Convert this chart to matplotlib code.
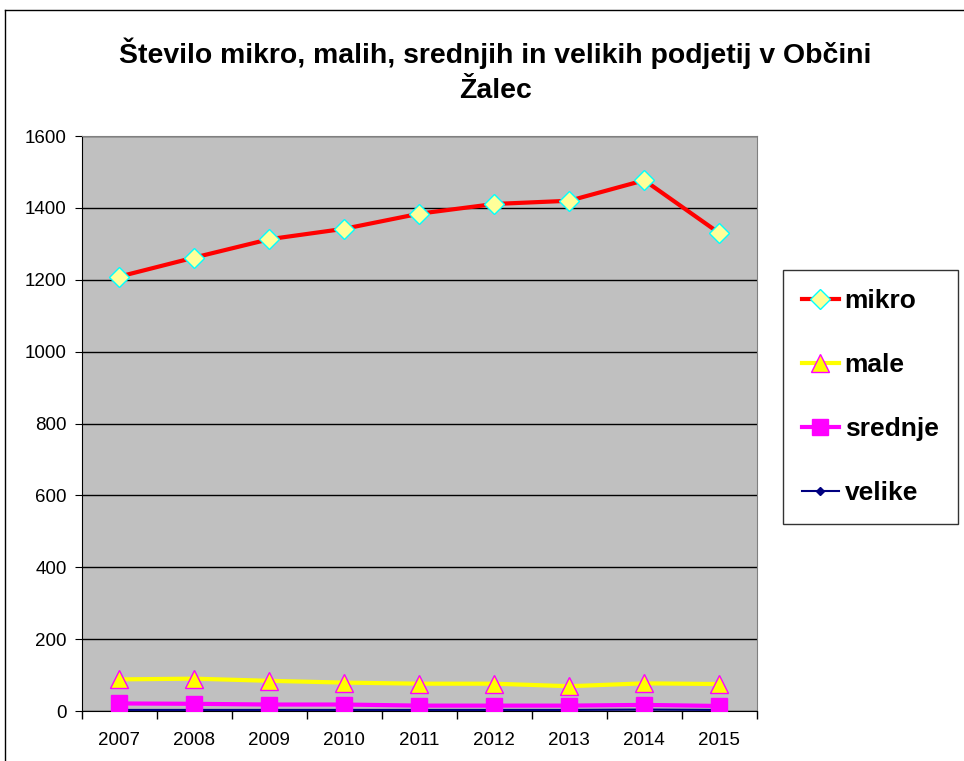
import matplotlib.pyplot as plt
from matplotlib.lines import Line2D

plt.rcParams['font.family'] = ['Liberation Sans', 'DejaVu Sans']

years = ['2007', '2008', '2009', '2010', '2011', '2012', '2013', '2014', '2015']
mikro = [1209, 1262, 1313, 1342, 1384, 1411, 1420, 1477, 1330]
male = [88, 90, 84, 79, 76, 76, 69, 77, 75]
srednje = [21, 20, 18, 18, 15, 15, 15, 17, 14]
velike = [3, 3, 3, 3, 3, 3, 3, 4, 3]

fig = plt.figure(figsize=(9.64, 7.61), dpi=100)
ax = fig.add_axes([0.085, 0.0657, 0.7, 0.7555])

x = range(len(years))

# series
ax.plot(x, velike, color='#000080', lw=1.5, marker='D', ms=4,
        mfc='#000080', mec='#000080', label='velike', zorder=3)
ax.plot(x, srednje, color='#FF00FF', lw=3, marker='s', ms=11,
        mfc='#FF00FF', mec='#FF00FF', label='srednje', zorder=4)
ax.plot(x, male, color='#FFFF00', lw=3, marker='^', ms=13,
        mfc='#FFFF00', mec='#FF00FF', mew=1, label='male', zorder=5)
ax.plot(x, mikro, color='#FF0000', lw=3, marker='D', ms=10,
        mfc='#FFFF99', mec='#00FFFF', mew=1, label='mikro', zorder=5)

ax.set_facecolor('#C0C0C0')
ax.set_ylim(0, 1600)
ax.set_yticks(range(0, 1601, 200))
ax.set_xlim(-0.5, len(years) - 0.5)
ax.set_xticks(list(x))
ax.set_xticklabels(years)
ax.set_xticks([i - 0.5 for i in range(len(years) + 1)], minor=True)
ax.tick_params(axis='x', which='major', length=0, pad=15, labelsize=13.5)
ax.tick_params(axis='x', which='minor', length=6, direction='out', width=1)
ax.tick_params(axis='y', length=5, direction='out', labelsize=13.5, pad=6)
ax.yaxis.grid(True, color='black', lw=1)
ax.set_axisbelow(True)
for s in ['top', 'right']:
    ax.spines[s].set_color('#808080')
for s in ['left', 'bottom']:
    ax.spines[s].set_color('black')

fig.text(0.514, 0.907, 'Število mikro, malih, srednjih in velikih podjetij v Občini\nŽalec',
         ha='center', va='center', fontsize=20.4, fontweight='bold', linespacing=1.45)

# legend in original order
handles, labels = ax.get_legend_handles_labels()
order = [3, 2, 1, 0]
leg = fig.legend([handles[i] for i in order], [labels[i] for i in order],
                 loc='upper left', bbox_to_anchor=(783 / 964, 1 - 270 / 761),
                 prop={'size': 19, 'weight': 'bold'}, frameon=True, fancybox=False,
                 edgecolor='black', borderpad=0.72, labelspacing=1.52,
                 handlelength=1.4, handletextpad=0.22, borderaxespad=0)
leg.get_frame().set_linewidth(1)

# outer chart border
fig.add_artist(Line2D([5 / 964, 5 / 964], [0, 1 - 10 / 761], color='black', lw=1))
fig.add_artist(Line2D([5 / 964, 1], [1 - 10 / 761, 1 - 10 / 761], color='black', lw=1))

fig.savefig('out.png', dpi=100)
